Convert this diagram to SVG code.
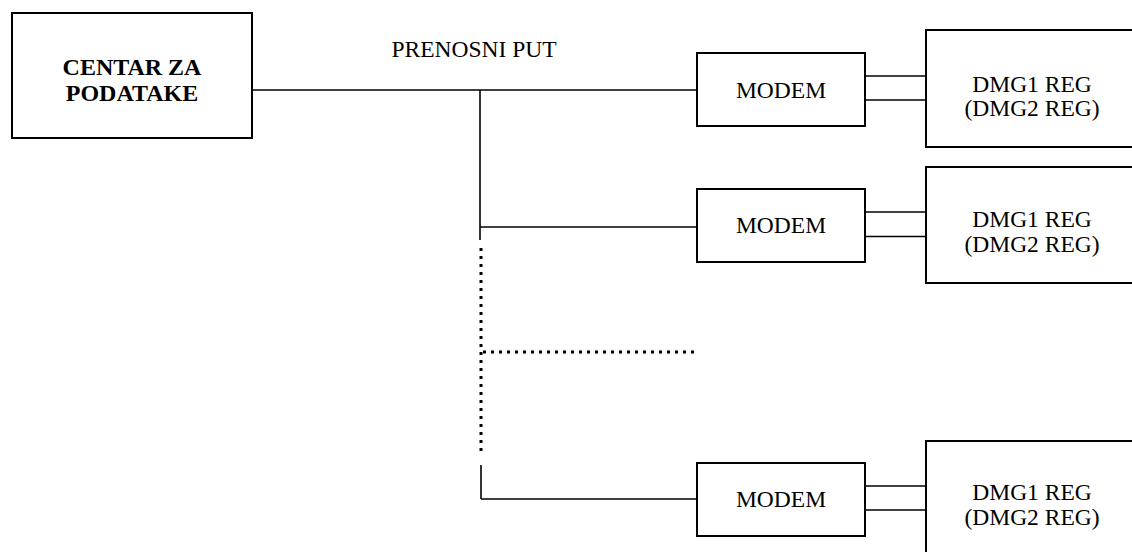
<svg xmlns="http://www.w3.org/2000/svg" width="1132" height="552" viewBox="0 0 1132 552">
<style>
.box{fill:#fff;stroke:#000;stroke-width:2}
.ln{stroke:#000;stroke-width:1.6;fill:none}
.dot{stroke:#000;stroke-width:3;stroke-dasharray:3 5;fill:none}
text{font-family:'Liberation Serif','Times New Roman',serif;font-size:23.5px;fill:#000;text-anchor:middle}
.b{font-weight:bold;font-size:24px}
</style>
<rect width="1132" height="552" fill="#fff"/>
<g id="connectors">
<line class="ln" x1="252" y1="90" x2="697" y2="90"/>
<line class="ln" x1="480" y1="90" x2="480" y2="240"/>
<line class="ln" x1="480" y1="227" x2="697" y2="227"/>
<line class="dot" x1="481" y1="248" x2="481" y2="452"/>
<line class="dot" x1="483" y1="352" x2="694" y2="352"/>
<line class="ln" x1="481" y1="465" x2="481" y2="499"/>
<line class="ln" x1="481" y1="499" x2="697" y2="499"/>
<line class="ln" x1="866" y1="76" x2="926" y2="76"/>
<line class="ln" x1="866" y1="100" x2="926" y2="100"/>
<line class="ln" x1="866" y1="212" x2="926" y2="212"/>
<line class="ln" x1="866" y1="236.5" x2="926" y2="236.5"/>
<line class="ln" x1="866" y1="486" x2="926" y2="486"/>
<line class="ln" x1="866" y1="510" x2="926" y2="510"/>
</g>
<g id="label-prenosni"><text x="474" y="56.5">PRENOSNI PUT</text></g>
<g id="centar">
<rect class="box" x="12" y="13" width="240" height="125"/>
<text class="b" x="132" y="75">CENTAR ZA</text>
<text class="b" x="132" y="101">PODATAKE</text>
</g>
<g id="modem1">
<rect class="box" x="697" y="53" width="168" height="73"/>
<text x="781" y="98">MODEM</text>
</g>
<g id="dmg1">
<rect class="box" x="926" y="30" width="220" height="117"/>
<text x="1032" y="92">DMG1 REG</text>
<text x="1032" y="116">(DMG2 REG)</text>
</g>
<g id="modem2">
<rect class="box" x="697" y="189" width="168" height="73"/>
<text x="781" y="233">MODEM</text>
</g>
<g id="dmg2">
<rect class="box" x="926" y="167" width="220" height="116"/>
<text x="1032" y="227">DMG1 REG</text>
<text x="1032" y="252">(DMG2 REG)</text>
</g>
<g id="modem3">
<rect class="box" x="697" y="463" width="168" height="73"/>
<text x="781" y="507">MODEM</text>
</g>
<g id="dmg3">
<rect class="box" x="926" y="441" width="220" height="130"/>
<text x="1032" y="500">DMG1 REG</text>
<text x="1032" y="525">(DMG2 REG)</text>
</g>
</svg>
